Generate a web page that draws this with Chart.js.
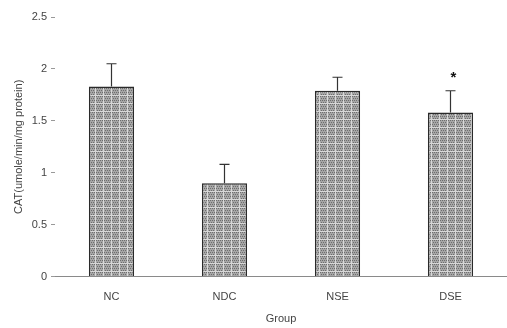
<!DOCTYPE html>
<html>
<head>
<meta charset="utf-8">
<script src="https://cdn.jsdelivr.net/npm/chart.js@4.4.0/dist/chart.umd.min.js"></script>
<style>
  html, body { margin: 0; padding: 0; background: #fff; }
  #wrap { width: 507px; height: 328px; }
</style>
</head>
<body>
<div id="wrap"><canvas id="catChart"></canvas></div>
<script>
const groups = ['NC', 'NDC', 'NSE', 'DSE'];
const catValues = [1.83, 0.90, 1.79, 1.58];
const catErrors = [0.22, 0.18, 0.13, 0.21];
const significant = [false, false, false, true];
const yTicks = [0, 0.5, 1, 1.5, 2, 2.5];

// grey dotted texture like the printed bars
function makePattern() {
  const c = document.createElement('canvas');
  c.width = 8;
  c.height = 8;
  const p = c.getContext('2d');
  p.fillStyle = '#a6a6a6';
  p.fillRect(0, 0, 8, 8);
  p.fillStyle = '#6e6e6e';
  for (let y = 0; y < 8; y += 2) {
    for (let x = (y / 2) % 2; x < 8; x += 2) {
      p.fillRect(x, y, 1, 1);
    }
  }
  p.fillStyle = '#d8d8d8';
  p.fillRect(0, 7, 8, 1);
  p.fillRect(7, 0, 1, 8);
  return p.createPattern(c, 'repeat');
}

const errorBars = {
  id: 'errorBars',
  afterDatasetsDraw(chart) {
    const { ctx } = chart;
    const meta = chart.getDatasetMeta(0);
    const yScale = chart.scales.y;
    ctx.save();
    ctx.strokeStyle = '#333';
    ctx.lineWidth = 1.2;
    meta.data.forEach((bar, i) => {
      const yTop = yScale.getPixelForValue(catValues[i] + catErrors[i]);
      ctx.beginPath();
      ctx.moveTo(bar.x, bar.y);
      ctx.lineTo(bar.x, yTop);
      ctx.moveTo(bar.x - 5, yTop);
      ctx.lineTo(bar.x + 5, yTop);
      ctx.stroke();
      if (significant[i]) {
        ctx.fillStyle = '#111';
        ctx.font = 'bold 15px "Liberation Sans", Arial, sans-serif';
        ctx.textAlign = 'center';
        ctx.textBaseline = 'middle';
        ctx.fillText('*', bar.x + 3, yTop - 13);
      }
    });
    ctx.restore();
  },
};

const ctx = document.getElementById('catChart').getContext('2d');

new Chart(ctx, {
  type: 'bar',
  data: {
    labels: groups,
    datasets: [{
      data: catValues,
      backgroundColor: makePattern(),
      borderColor: '#2a2a2a',
      borderWidth: 1.5,
      borderSkipped: 'bottom',
      categoryPercentage: 1,
      barPercentage: 0.4,
    }],
  },
  options: {
    responsive: true,
    maintainAspectRatio: false,
    animation: false,
    devicePixelRatio: 1,
    layout: {
      padding: { top: 17, right: 0, left: 12, bottom: 2 },
    },
    plugins: {
      legend: { display: false },
      tooltip: { enabled: false },
    },
    scales: {
      x: {
        grid: { display: false },
        border: { display: true, color: '#8a8a8a', dash: [7, 3], width: 1 },
        ticks: {
          color: '#444',
          padding: 6,
          font: { family: '"Liberation Sans", Arial, sans-serif', size: 11 },
        },
        title: {
          display: true,
          text: 'Group',
          color: '#444',
          padding: { top: 3, bottom: 0 },
          font: { family: '"Liberation Sans", Arial, sans-serif', size: 11 },
        },
      },
      y: {
        min: 0,
        max: 2.5,
        afterFit(scale) {
          scale.width = 43;
        },
        afterBuildTicks(scale) {
          scale.ticks = yTicks.map((v) => ({ value: v }));
        },
        grid: {
          drawOnChartArea: false,
          drawTicks: true,
          tickLength: 4,
          color: '#999',
        },
        border: { display: false },
        ticks: {
          color: '#444',
          padding: 4,
          font: { family: '"Liberation Sans", Arial, sans-serif', size: 11 },
          callback: (v) => String(v),
        },
        title: {
          display: true,
          text: 'CAT(umole/min/mg protein)',
          color: '#444',
          padding: { top: 0, bottom: 0 },
          font: { family: '"Liberation Sans", Arial, sans-serif', size: 11 },
        },
      },
    },
  },
  plugins: [errorBars],
});
</script>
</body>
</html>
